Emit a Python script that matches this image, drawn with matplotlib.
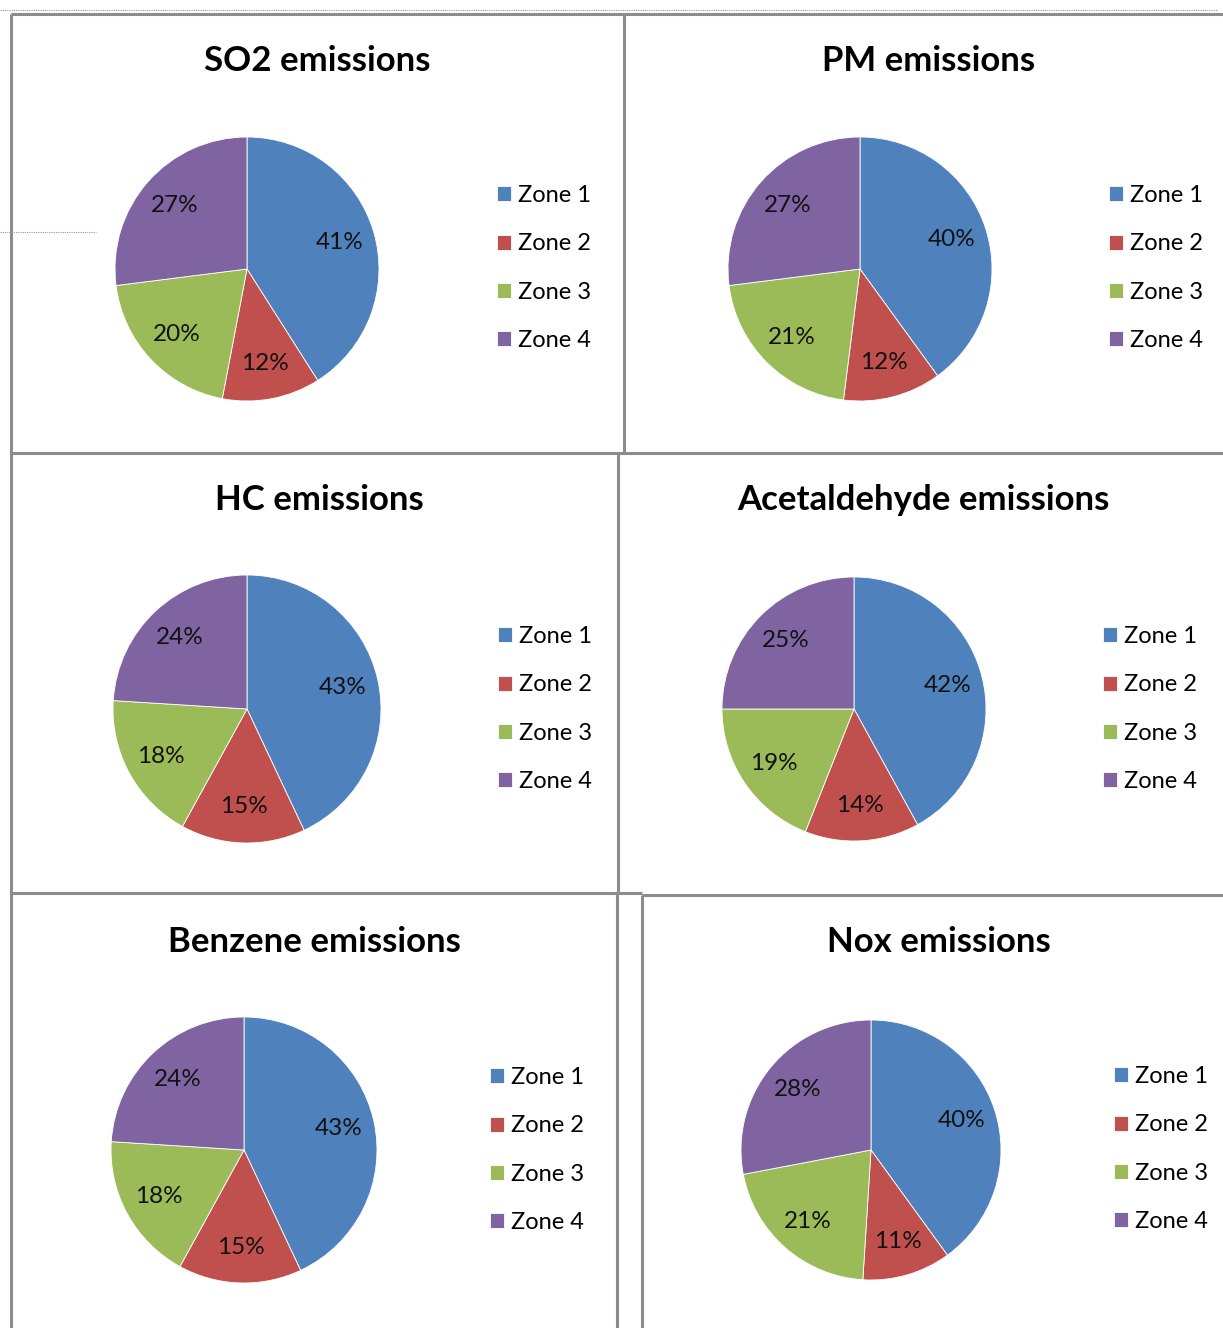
import matplotlib
matplotlib.use('Agg')
import matplotlib.pyplot as plt
from matplotlib.lines import Line2D

plt.rcParams['font.family'] = ['Lato', 'DejaVu Sans']

W, H = 1223, 1328

zones = ['Zone 1', 'Zone 2', 'Zone 3', 'Zone 4']
zone_colors = ['#4F81BD', '#C0504D', '#9BBB59', '#8064A2']

titles = ['SO2 emissions', 'PM emissions', 'HC emissions',
          'Acetaldehyde emissions', 'Benzene emissions', 'Nox emissions']
so2 = [41, 12, 20, 27]
pm = [40, 12, 21, 27]
hc = [43, 15, 18, 24]
acetaldehyde = [42, 14, 19, 25]
benzene = [43, 15, 18, 24]
nox = [40, 11, 21, 28]
series = [so2, pm, hc, acetaldehyde, benzene, nox]

# pixel layout: pie centre, radius, title centre, legend anchor
pie_centers = [(247, 269), (860, 269), (247, 709), (854, 709), (244, 1150), (871, 1150)]
pie_radii = [132, 132, 134, 132, 133, 130]
title_pos = [(317, 61), (929, 61), (319, 500), (923, 500), (314, 942), (939, 942)]
legend_pos = [(497, 268), (1109, 268), (498, 709), (1103, 709), (490, 1150), (1114, 1149)]


def fx(x):
    return x / W


def fy(y):
    return 1 - y / H


fig = plt.figure(figsize=(W / 100, H / 100), dpi=100)
fig.patch.set_facecolor('white')

# panel borders
border = dict(color='#8c8c8c', linewidth=2.2, solid_capstyle='butt')
segments = [
    ((11, 14), (1223, 14)),
    ((11, 14), (11, 1328)),
    ((624, 14), (624, 453)),
    ((11, 453), (1223, 453)),
    ((618, 453), (618, 893)),
    ((11, 893), (618, 893)),
    ((618, 893), (642, 893)),
    ((642, 895), (1223, 895)),
    ((617, 893), (617, 1328)),
    ((642, 895), (642, 1328)),
]
for (x0, y0), (x1, y1) in segments:
    fig.add_artist(Line2D([fx(x0), fx(x1)], [fy(y0), fy(y1)], **border))

# faint dotted guides
dotted = dict(color='#9a9a9a', linewidth=0.8, linestyle=(0, (1, 1)))
fig.add_artist(Line2D([fx(0), fx(1218)], [fy(10), fy(10)], **dotted))
fig.add_artist(Line2D([fx(0), fx(96)], [fy(232), fy(232)], **dotted))

for title, values, (cx, cy), r, (tx, ty), (lx, ly) in zip(
        titles, series, pie_centers, pie_radii, title_pos, legend_pos):
    ax = fig.add_axes([fx(cx - r), fy(cy + r), 2 * r / W, 2 * r / H])
    wedges, _, autotexts = ax.pie(
        values, colors=zone_colors, startangle=90, counterclock=False,
        autopct=lambda p: f'{p:.0f}%', pctdistance=0.73,
        wedgeprops=dict(edgecolor='white', linewidth=0.6),
        textprops=dict(fontsize=17.5, color='#111111'))
    ax.set_xlim(-1, 1)
    ax.set_ylim(-1, 1)
    ax.set_aspect('equal')

    fig.text(fx(tx), fy(ty), title, ha='center', va='center',
             fontsize=25, fontweight='bold', color='black')

    fig.legend(wedges, zones, loc='center left',
               bbox_to_anchor=(fx(lx), fy(ly)), frameon=False,
               fontsize=17, handlelength=0.6, handleheight=0.6,
               handletextpad=0.3, labelspacing=1.15,
               borderpad=0, borderaxespad=0)

fig.savefig('out.png', dpi=100, facecolor='white')
